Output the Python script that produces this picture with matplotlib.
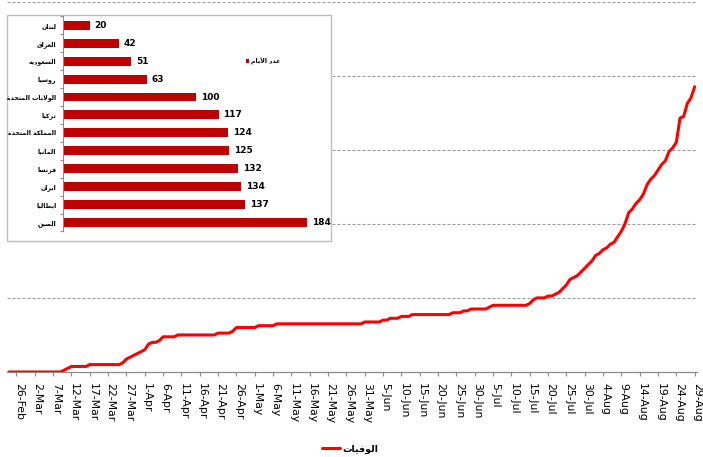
import matplotlib
matplotlib.use('Agg')
import matplotlib.pyplot as plt
import matplotlib.transforms as mtransforms
from matplotlib.patches import Rectangle
import pandas as pd

# cumulative deaths, one value per day from 24 Feb to 29 Aug 2020
start_date = '2020-02-24'
end_date = '2020-08-29'
deaths = [
    # 24-29 Feb
    0, 0, 0, 0, 0, 0,
    # March
    0, 0, 0, 0, 0, 0, 0, 0, 0, 1, 2, 3, 3, 3, 3, 3,
    4, 4, 4, 4, 4, 4, 4, 4, 4, 5, 7, 8, 9, 10, 11,
    # April
    12, 15, 16, 16, 17, 19, 19, 19, 19, 20, 20, 20, 20, 20, 20,
    20, 20, 20, 20, 20, 21, 21, 21, 21, 22, 24, 24, 24, 24, 24,
    # May
    24, 25, 25, 25, 25, 25, 26, 26, 26, 26, 26, 26, 26, 26, 26, 26,
    26, 26, 26, 26, 26, 26, 26, 26, 26, 26, 26, 26, 26, 26, 27,
    # June
    27, 27, 27, 27, 28, 28, 29, 29, 29, 30, 30, 30, 31, 31, 31,
    31, 31, 31, 31, 31, 31, 31, 31, 32, 32, 32, 33, 33, 34, 34,
    # July
    34, 34, 34, 35, 36, 36, 36, 36, 36, 36, 36, 36, 36, 36, 37, 39,
    40, 40, 40, 41, 41, 42, 43, 45, 47, 50, 51, 52, 54, 56, 58,
    # August
    60, 63, 64, 66, 67, 69, 70, 73, 76, 80, 86, 88, 91, 93, 96,
    101, 104, 106, 109, 112, 114, 119, 121, 124, 137, 138, 145, 148, 154,
]
series_label = 'الوفيات'

# inset: number of days per country
countries = ['لبنان', 'العراق', 'السعودية', 'روسيا', 'الولايات المتحدة', 'تركيا',
             'المملكة المتحدة', 'المانيا', 'فرنسا', 'ايران', 'ايطاليا', 'الصين']
days = [20, 42, 51, 63, 100, 117, 124, 125, 132, 134, 137, 184]
bar_label = 'عدد الأيام'

# matplotlib does no Arabic shaping, so pick the presentation forms by hand
DUAL = {'ب': 0xFE8F, 'ت': 0xFE95, 'ث': 0xFE99, 'ج': 0xFE9D, 'ح': 0xFEA1,
        'خ': 0xFEA5, 'س': 0xFEB1, 'ش': 0xFEB5, 'ص': 0xFEB9, 'ض': 0xFEBD,
        'ط': 0xFEC1, 'ظ': 0xFEC5, 'ع': 0xFEC9, 'غ': 0xFECD, 'ف': 0xFED1,
        'ق': 0xFED5, 'ك': 0xFED9, 'ل': 0xFEDD, 'م': 0xFEE1, 'ن': 0xFEE5,
        'ه': 0xFEE9, 'ي': 0xFEF1}
RIGHT = {'ا': 0xFE8D, 'أ': 0xFE83, 'إ': 0xFE87, 'آ': 0xFE81, 'ة': 0xFE93,
         'د': 0xFEA9, 'ذ': 0xFEAB, 'ر': 0xFEAD, 'ز': 0xFEAF, 'و': 0xFEED,
         'لا': 0xFEFB, 'لأ': 0xFEF7, 'لإ': 0xFEF9, 'لآ': 0xFEF5}


def shape_arabic(text):
    chars = []
    i = 0
    while i < len(text):
        if text[i:i + 2] in RIGHT and len(text[i:i + 2]) == 2:
            chars.append(text[i:i + 2])
            i += 2
        else:
            chars.append(text[i])
            i += 1
    out = []
    for k, c in enumerate(chars):
        if c in DUAL:
            base = DUAL[c]
        elif c in RIGHT:
            base = RIGHT[c]
        else:
            out.append(c)
            continue
        prev = chars[k - 1] if k > 0 else None
        nxt = chars[k + 1] if k + 1 < len(chars) else None
        join_prev = prev in DUAL
        join_next = c in DUAL and (nxt in DUAL or nxt in RIGHT)
        if join_prev and join_next:
            out.append(chr(base + 3))
        elif join_prev:
            out.append(chr(base + 1))
        elif join_next:
            out.append(chr(base + 2))
        else:
            out.append(chr(base))
    return ''.join(reversed(out))


W, H = 703, 457
fig = plt.figure(figsize=(W / 100, H / 100), dpi=100)
fig.patch.set_facecolor('white')

# main line chart
ax = fig.add_axes([7.3 / W, 1 - 372 / H, (696.5 - 7.3) / W, (372 - 1.5) / H])
dates = pd.date_range(start_date, end_date)
ax.plot(dates, deaths, color='#FF0000', lw=2.2, label=shape_arabic(series_label),
        solid_capstyle='round', solid_joinstyle='round', zorder=3)
ax.set_xlim(pd.Timestamp('2020-02-23 12:00'), pd.Timestamp('2020-08-29 12:00'))
ax.set_ylim(0, 200)
ax.set_yticks([40, 80, 120, 160, 200])
ax.yaxis.grid(True, color='#9A9A9A', lw=0.75, linestyle=(0, (2.9, 1.9)))
ax.tick_params(axis='y', left=False, labelleft=False)
for s in ['left', 'right', 'top']:
    ax.spines[s].set_visible(False)
ax.spines['bottom'].set_color('#8C8C8C')
ax.spines['bottom'].set_linewidth(0.9)

tick_dates = pd.date_range('2020-02-26', end_date, freq='5D')
ax.set_xticks(tick_dates)
ax.set_xticklabels([f'{d.day}-{d.strftime("%b")}' for d in tick_dates],
                   rotation=270, fontsize=7.8, family='DejaVu Sans')
ax.tick_params(axis='x', length=3, width=0.8, color='#8C8C8C', pad=5)
shift = mtransforms.ScaledTranslation(2.5 / 100, 0, fig.dpi_scale_trans)
for lab in ax.get_xticklabels():
    lab.set_transform(lab.get_transform() + shift)

fig.legend(loc='center', bbox_to_anchor=(350 / W, 1 - 449 / H), frameon=False,
           handlelength=1.9, handletextpad=0.2,
           prop={'family': 'DejaVu Sans', 'weight': 'bold', 'size': 6.8})

# inset box and bar chart
fig.add_artist(Rectangle((7.5 / W, 1 - 241 / H), (331 - 7.5) / W, (241 - 15) / H,
                         transform=fig.transFigure, facecolor='white',
                         edgecolor='#BDBDBD', lw=1, zorder=1))

ax_in = fig.add_axes([63.3 / W, 1 - 231.5 / H, 265.4 / W, (231.5 - 16.3) / H], zorder=2)
ax_in.patch.set_visible(False)
pos = list(range(len(countries)))
bars = ax_in.barh(pos, days, height=0.5, color='#C00000', label=shape_arabic(bar_label))
ax_in.set_xlim(0, 200)
ax_in.set_ylim(len(countries) - 0.5, -0.5)
ax_in.set_yticks(pos)
ax_in.set_yticklabels([shape_arabic(c) for c in countries], family='DejaVu Sans',
                      fontweight='bold', fontsize=4.5)
ax_in.set_yticks([p - 0.5 for p in pos] + [len(countries) - 0.5], minor=True)
ax_in.tick_params(axis='y', which='major', length=0, pad=5)
ax_in.tick_params(axis='y', which='minor', length=2.2, width=0.8, color='#8C8C8C')
ax_in.set_xticks([])
for s in ['right', 'top', 'bottom']:
    ax_in.spines[s].set_visible(False)
ax_in.spines['left'].set_color('#8C8C8C')
ax_in.spines['left'].set_linewidth(0.8)
ax_in.bar_label(bars, padding=3.5, fontsize=6.5, fontweight='bold',
                family=['Liberation Sans Narrow', 'DejaVu Sans'])
ax_in.legend(loc='center', bbox_to_anchor=(263 / W, 1 - 61 / H),
             bbox_transform=fig.transFigure, frameon=False,
             handlelength=0.5, handleheight=0.5, handletextpad=0.3,
             prop={'family': 'DejaVu Sans', 'weight': 'bold', 'size': 4.5})

fig.savefig('out.png', dpi=100, facecolor='white')
